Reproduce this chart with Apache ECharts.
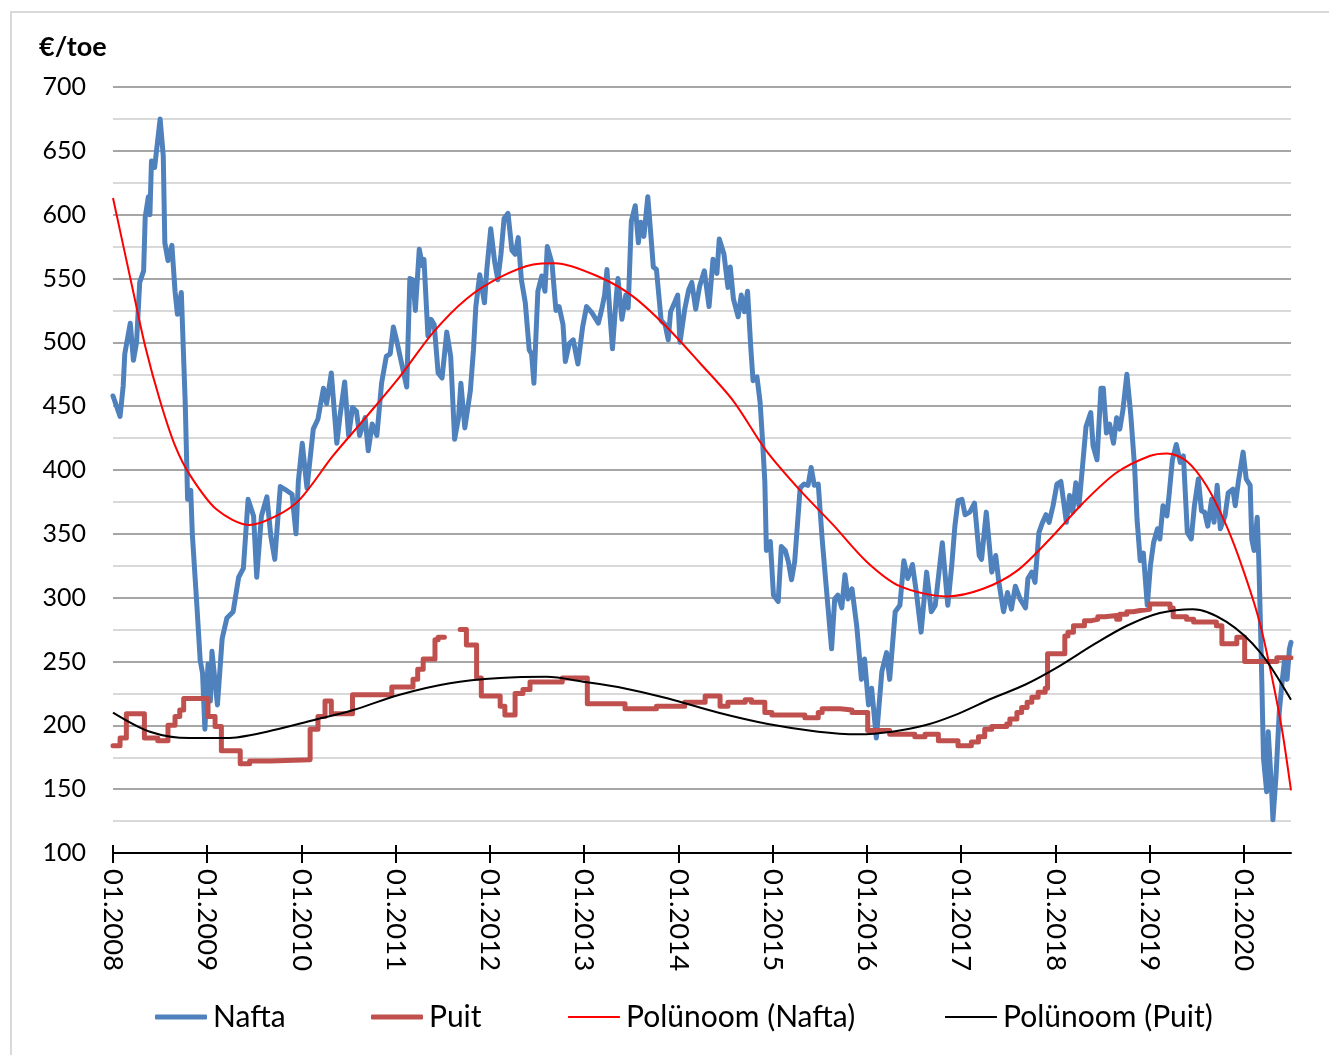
<!DOCTYPE html>
<html>
<head>
<meta charset="UTF-8">
<title>Nafta ja puit</title>
<script src="https://cdn.jsdelivr.net/npm/echarts@6/dist/echarts.min.js"></script>
<style>
	html, body { margin: 0; padding: 0; background: #fff; }
	#main { width: 1329px; height: 1055px; }
</style>
</head>
<body>
<div id="main"></div>
<script>
// x = kuud alates 01.2008, y = €/toe
var nafta = [[0,458],[0.9,442],[1.3,466],[1.5,491],[2.2,515],[2.6,486],[3.0,500],[3.4,547],[3.9,556],[4.1,598],[4.5,614],[4.7,600],[4.9,642],[5.3,637],[6.0,675],[6.4,646],[6.6,578],[7.0,564],[7.5,576],[7.9,540],[8.2,522],[8.7,539],[9.2,452],[9.5,377],[9.9,384],[10.1,350],[10.7,292],[11.1,251],[11.4,241],[11.7,197],[12.1,248],[12.4,219],[12.6,258],[13.3,216],[13.9,268],[14.5,284],[15.3,289],[16.0,316],[16.6,323],[17.2,377],[17.9,364],[18.3,316],[18.9,364],[19.6,379],[20.1,348],[20.6,330],[21.3,387],[22.1,384],[22.8,381],[23.3,350],[23.6,391],[24.1,421],[24.7,386],[25.5,432],[26.1,440],[26.8,464],[27.2,452],[27.8,476],[28.5,421],[28.9,442],[29.5,469],[30.0,427],[30.5,449],[31.0,446],[31.4,427],[32.1,441],[32.5,415],[33.0,436],[33.6,427],[34.2,468],[34.8,489],[35.3,491],[35.7,512],[36.1,502],[36.8,482],[37.4,465],[37.8,550],[38.2,549],[38.5,525],[39.0,573],[39.4,560],[39.6,565],[40.1,505],[40.5,518],[40.9,514],[41.4,476],[41.9,472],[42.5,508],[43.0,489],[43.5,424],[44.0,441],[44.3,468],[44.8,433],[45.5,462],[45.9,494],[46.2,528],[46.7,553],[47.3,531],[47.6,557],[48.1,589],[48.6,563],[49.0,549],[49.4,569],[49.8,597],[50.3,601],[50.8,572],[51.2,569],[51.6,582],[52.0,549],[52.5,531],[53.0,494],[53.3,491],[53.6,468],[54.1,540],[54.6,552],[55.0,540],[55.3,575],[55.9,562],[56.4,525],[56.8,528],[57.3,514],[57.6,485],[58.1,499],[58.6,502],[59.2,483],[59.8,512],[60.3,528],[61.0,523],[61.8,515],[62.2,525],[62.6,537],[62.9,557],[63.3,520],[63.6,495],[64.1,537],[64.3,550],[64.8,518],[65.3,537],[65.6,527],[66.0,595],[66.5,607],[66.9,578],[67.2,594],[67.6,583],[68.1,614],[68.5,583],[68.8,559],[69.2,557],[69.8,517],[70.3,514],[70.7,502],[71.0,524],[71.5,531],[71.9,537],[72.2,500],[72.8,526],[73.3,541],[73.7,547],[74.2,526],[74.7,544],[75.3,556],[75.9,528],[76.4,565],[76.9,554],[77.2,581],[77.8,569],[78.3,543],[78.6,559],[79.0,534],[79.6,520],[80.0,537],[80.4,524],[80.8,540],[81.2,497],[81.5,470],[82.0,473],[82.4,453],[82.7,424],[83.0,391],[83.2,337],[83.7,344],[84.1,302],[84.7,297],[85.1,340],[85.6,337],[86.0,328],[86.4,314],[86.8,328],[87.5,386],[88.0,389],[88.5,388],[88.9,402],[89.3,388],[89.8,389],[90.3,346],[90.7,317],[91.5,260],[91.9,299],[92.3,302],[92.8,292],[93.2,318],[93.6,299],[94.1,307],[94.7,278],[95.3,236],[95.7,252],[96.2,216],[96.6,229],[97.2,190],[97.9,242],[98.5,257],[98.9,236],[99.6,289],[100.2,294],[100.7,329],[101.2,315],[101.8,326],[102.3,304],[102.9,273],[103.6,320],[104.2,289],[104.7,294],[105.6,343],[106.3,294],[106.8,325],[107.2,356],[107.6,376],[108.1,377],[108.5,365],[109.1,367],[109.7,374],[110.3,333],[110.6,330],[111.2,367],[111.9,320],[112.4,333],[112.8,312],[113.4,289],[113.9,304],[114.4,291],[114.9,309],[115.5,299],[116.2,292],[116.5,315],[117.0,320],[117.4,312],[117.9,351],[118.3,358],[118.8,365],[119.2,359],[119.7,372],[120.2,389],[120.7,391],[121.4,359],[121.8,380],[122.2,367],[122.6,390],[123.0,372],[123.5,406],[123.9,434],[124.5,445],[124.8,419],[125.3,408],[125.8,464],[126.1,464],[126.5,429],[126.9,436],[127.4,421],[127.8,441],[128.2,432],[128.6,447],[129.1,475],[129.6,443],[130.1,401],[130.4,361],[130.8,329],[131.2,335],[131.7,294],[132.1,325],[132.5,343],[133.0,354],[133.3,346],[133.7,372],[134.2,364],[134.5,382],[134.9,408],[135.4,420],[135.9,406],[136.3,411],[136.8,351],[137.3,346],[137.7,372],[138.2,393],[138.6,368],[139.0,367],[139.4,356],[139.9,377],[140.2,359],[140.6,388],[141.0,354],[141.6,364],[142.0,382],[142.6,385],[142.9,372],[143.3,391],[143.9,414],[144.3,393],[144.8,388],[145.0,346],[145.3,337],[145.7,363],[145.9,330],[146.2,257],[146.5,174],[146.9,148],[147.1,195],[147.5,153],[147.7,126],[148.1,161],[148.5,210],[148.9,236],[149.2,252],[149.5,236],[149.8,260],[150,265]];

// puidu hind muutub astmetena; null = puuduv andmelõik
var puit = [[0,184],[0.9,190],[1.7,209],[4.0,190],[5.7,188],[7.0,200],[7.9,207],[8.5,212],[9.0,221],[12.1,207],[13.0,199],[13.8,180],[16.2,170],[17.4,172],[20.0,173],[25.1,197],[26.1,207],[27.0,219],[27.8,209],[30.5,224],[35.5,230],[38.2,236],[38.8,244],[39.5,252],[41.0,267],[41.4,269],[42.1,269],[42.2,null],[44.2,275],[45.0,263],[46.3,237],[46.9,223],[49.3,215],[49.9,208],[51.2,225],[52.2,228],[53.1,234],[57.2,237],[60.4,217],[65.2,213],[69.2,215],[72.8,218],[75.4,223],[77.3,215],[78.3,218],[80.5,220],[81.3,218],[83.0,210],[83.9,208],[88.1,206],[89.8,210],[90.3,213],[92.6,212],[94.1,210],[96.1,196],[98.9,193],[102.1,191],[103.4,193],[105.1,188],[107.6,184],[109.3,187],[110.2,191],[111.0,197],[111.9,199],[113.8,201],[114.2,205],[115.1,210],[115.7,214],[116.4,218],[117.0,222],[117.8,226],[118.7,229],[119.0,256],[121.2,270],[121.6,273],[122.3,278],[123.7,282],[124.6,283],[125.4,285],[126.3,286],[127.8,283],[128.2,287],[129.1,289],[129.9,290],[130.8,291],[132.0,295],[134.6,292],[135.0,285],[136.7,283],[137.6,281],[140.5,278],[141.2,264],[143.1,269],[144.1,250],[148.2,253],[150,253]];

// trendijooned (loetud pildilt)
var trendNafta = [[0,613],[2.6,539],[4.1,497],[6.0,454],[7.9,419],[9.8,396],[13.2,369],[17.4,357],[20.8,364],[23.8,377],[28.0,411],[32.3,442],[36.5,473],[40.8,508],[45.0,534],[49.3,551],[53.5,561],[56.3,562],[62.0,551],[66.2,536],[70.5,512],[74.7,484],[79.0,454],[83.2,415],[87.5,384],[91.7,357],[96.0,328],[100.2,309],[106.2,301],[110.8,307],[115.1,321],[119.3,346],[123.5,374],[127.8,398],[132.0,411],[134.2,413],[136.7,407],[139.3,387],[141.8,356],[143.9,322],[146.0,281],[147.7,234],[148.9,195],[150,149]];
var trendPuit = [[0,210],[4.7,195],[9.8,190],[14.5,190],[19.6,195],[25.5,204],[30.6,212],[36.5,224],[42.9,233],[49.3,237],[55.2,238],[60.1,234],[64.3,230],[70.7,221],[77.0,210],[83.4,201],[89.8,195],[94.9,193],[99.2,195],[103.4,200],[107.6,209],[111.9,221],[116.2,232],[120.4,246],[124.8,263],[129.1,278],[133.3,288],[137.5,291],[141.8,281],[146.1,257],[150,220]];

var yearTicks = [0,12,24,36,48,60,72,84,96,108,120,132,144];
var seriesNames = ['Nafta', 'Puit', 'Polünoom (Nafta)', 'Polünoom (Puit)'];

var font = 'Lato';
var txt = '#000';

var myChart = echarts.init(document.getElementById('main'));

// iga legendi kirje eraldi, et asukohad klapiks
function legendItem(name, left, h) {
	return {
		data: [name],
		left: left,
		top: 1002,
		padding: 0,
		icon: 'roundRect',
		itemWidth: 52,
		itemHeight: h,
		textStyle: { fontFamily: font, fontSize: 30, color: txt, padding: [0, 0, 0, 1] }
	};
}

var option = {
	animation: false,
	backgroundColor: '#fff',
	title: {
		text: '€/toe',
		left: 39,
		top: 34,
		padding: 0,
		textStyle: { fontFamily: font, fontSize: 27, fontWeight: 'bold', color: txt }
	},
	graphic: [{
		type: 'rect',
		shape: { x: 11, y: 12, width: 1360, height: 1080 },
		style: { fill: 'none', stroke: '#D9D9D9', lineWidth: 2 },
		silent: true
	}],
	legend: [
		legendItem(seriesNames[0], 155, 5),
		legendItem(seriesNames[1], 371, 5),
		legendItem(seriesNames[2], 568, 2),
		legendItem(seriesNames[3], 945, 2)
	],
	grid: { left: 113, right: 38, top: 87, bottom: 202, containLabel: false },
	xAxis: [{
		type: 'value',
		min: 0,
		max: 150,
		splitLine: { show: false },
		axisLine: { show: true, onZero: false, lineStyle: { color: '#000', width: 2 } },
		axisTick: { show: true, length: 10, customValues: yearTicks, lineStyle: { color: '#000', width: 2 } },
		axisLabel: {
			customValues: yearTicks,
			rotate: -90,
			margin: 16,
			fontFamily: font,
			fontSize: 27.5,
			color: txt,
			formatter: function (v) {
				return '01.' + (2008 + Math.round(v / 12));
			}
		}
	}, {
		// sisemised tikid (Excel: risti)
		type: 'value',
		min: 0,
		max: 150,
		position: 'bottom',
		splitLine: { show: false },
		axisLine: { show: false },
		axisLabel: { show: false },
		axisTick: { show: true, inside: true, length: 8, customValues: yearTicks, lineStyle: { color: '#000', width: 2 } }
	}],
	yAxis: {
		type: 'value',
		min: 100,
		max: 700,
		interval: 50,
		axisLine: { show: false },
		axisTick: { show: false },
		axisLabel: { margin: 27, fontFamily: font, fontSize: 25, color: txt },
		splitLine: { lineStyle: { color: '#A6A6A6', width: 2 } },
		minorTick: { show: false, splitNumber: 2 },
		minorSplitLine: { show: true, lineStyle: { color: '#D9D9D9', width: 2 } }
	},
	series: [{
		name: seriesNames[0],
		type: 'line',
		data: nafta,
		symbol: 'none',
		lineStyle: { color: '#4F81BD', width: 5, join: 'round', cap: 'round' },
		itemStyle: { color: '#4F81BD' },
		z: 2
	}, {
		name: seriesNames[1],
		type: 'line',
		step: 'end',
		data: puit,
		symbol: 'none',
		lineStyle: { color: '#C0504D', width: 5, join: 'round', cap: 'round' },
		itemStyle: { color: '#C0504D' },
		z: 3
	}, {
		name: seriesNames[2],
		type: 'line',
		smooth: 0.3,
		data: trendNafta,
		symbol: 'none',
		lineStyle: { color: '#FF0000', width: 2 },
		itemStyle: { color: '#FF0000' },
		z: 4
	}, {
		name: seriesNames[3],
		type: 'line',
		smooth: 0.3,
		data: trendPuit,
		symbol: 'none',
		lineStyle: { color: '#000000', width: 2 },
		itemStyle: { color: '#000000' },
		z: 5
	}]
};
myChart.setOption(option);
</script>
</body>
</html>
